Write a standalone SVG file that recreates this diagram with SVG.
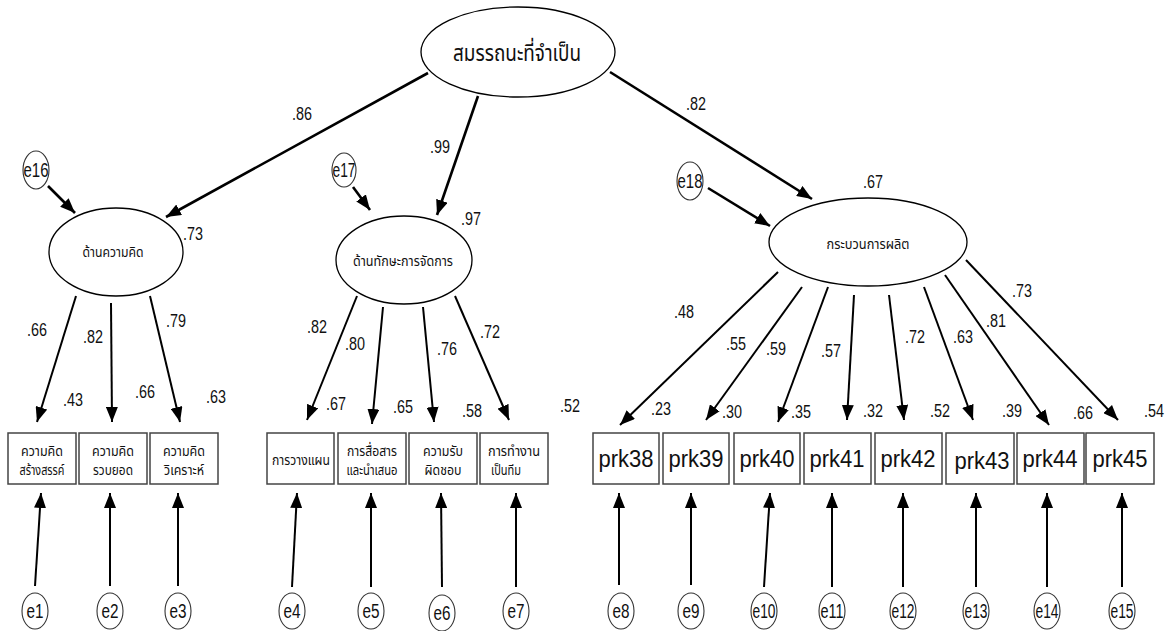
<svg xmlns="http://www.w3.org/2000/svg" width="1170" height="631" viewBox="0 0 1170 631">
<style>
.bg{fill:#fff}
.lat{fill:#fff;stroke:#000;stroke-width:1.3}
.err{fill:#fff;stroke:#333;stroke-width:1.1}
.box{fill:#fff;stroke:#444;stroke-width:1.5}
.c{stroke:#000;stroke-width:2;fill:none;marker-end:url(#ah)}
.ct{stroke:#000;stroke-width:2.6;fill:none;marker-end:url(#ah)}
.num{font-family:"Liberation Sans",Arial,sans-serif;font-size:18px;fill:#111}
.el{font-family:"Liberation Sans",Arial,sans-serif;font-size:20px;fill:#111;text-anchor:middle}
.th{font-family:"Noto Sans Thai","Noto Sans","DejaVu Sans",sans-serif;fill:#111;text-anchor:middle}
.prk{font-family:"Liberation Sans",Arial,sans-serif;font-size:23px;fill:#111;text-anchor:middle}
</style>
<defs>
<marker id="ah" markerUnits="userSpaceOnUse" markerWidth="15" markerHeight="12" viewBox="0 0 15 12" refX="15" refY="6" orient="auto">
<path d="M0,0 L15,6 L0,12 z" fill="#000"/>
</marker>
</defs>
<rect class="bg" x="0" y="0" width="1170" height="631"/>

<g id="connectors">
<line class="ct" x1="428" y1="73" x2="166" y2="217"/>
<line class="ct" x1="478" y1="96" x2="437" y2="215"/>
<line class="ct" x1="610" y1="72" x2="812" y2="199"/>
<line class="ct" x1="48" y1="186" x2="75" y2="213"/>
<line class="ct" x1="353" y1="187" x2="370" y2="210"/>
<line class="ct" x1="708" y1="188" x2="770" y2="226"/>
<line class="c" x1="76" y1="296" x2="37" y2="422"/>
<line class="c" x1="111" y1="303" x2="112" y2="422"/>
<line class="c" x1="150" y1="296" x2="180" y2="422"/>
<line class="c" x1="357" y1="296" x2="307" y2="420"/>
<line class="c" x1="383" y1="307" x2="372" y2="424"/>
<line class="c" x1="423" y1="307" x2="434" y2="422"/>
<line class="c" x1="455" y1="296" x2="509" y2="420"/>
<line class="c" x1="778" y1="272" x2="620" y2="425"/>
<line class="c" x1="802" y1="287" x2="706" y2="420"/>
<line class="c" x1="828" y1="287" x2="778" y2="422"/>
<line class="c" x1="854" y1="295" x2="847" y2="420"/>
<line class="c" x1="889" y1="295" x2="904" y2="420"/>
<line class="c" x1="924" y1="287" x2="973" y2="420"/>
<line class="c" x1="945" y1="275" x2="1049" y2="425"/>
<line class="c" x1="966" y1="260" x2="1118" y2="420"/>
<line class="c" x1="35" y1="586" x2="41" y2="493"/>
<line class="c" x1="110" y1="586" x2="110" y2="493"/>
<line class="c" x1="178" y1="586" x2="178" y2="493"/>
<line class="c" x1="292" y1="587" x2="297" y2="493"/>
<line class="c" x1="371" y1="587" x2="371" y2="493"/>
<line class="c" x1="442" y1="587" x2="441" y2="493"/>
<line class="c" x1="516" y1="587" x2="516" y2="493"/>
<line class="c" x1="619" y1="585" x2="619" y2="493"/>
<line class="c" x1="691" y1="585" x2="691" y2="493"/>
<line class="c" x1="764" y1="587" x2="770" y2="493"/>
<line class="c" x1="832" y1="587" x2="832" y2="493"/>
<line class="c" x1="903" y1="587" x2="903" y2="493"/>
<line class="c" x1="976" y1="587" x2="976" y2="493"/>
<line class="c" x1="1047" y1="587" x2="1047" y2="493"/>
<line class="c" x1="1122" y1="587" x2="1122" y2="493"/>
</g>

<g id="labels">
<text class="num" x="292" y="120" textLength="20" lengthAdjust="spacingAndGlyphs">.86</text>
<text class="num" x="430" y="153" textLength="20" lengthAdjust="spacingAndGlyphs">.99</text>
<text class="num" x="686" y="110" textLength="20" lengthAdjust="spacingAndGlyphs">.82</text>
<text class="num" x="183" y="240" textLength="20" lengthAdjust="spacingAndGlyphs">.73</text>
<text class="num" x="461" y="225" textLength="20" lengthAdjust="spacingAndGlyphs">.97</text>
<text class="num" x="863" y="188" textLength="20" lengthAdjust="spacingAndGlyphs">.67</text>
<text class="num" x="27" y="336" textLength="20" lengthAdjust="spacingAndGlyphs">.66</text>
<text class="num" x="83" y="343" textLength="20" lengthAdjust="spacingAndGlyphs">.82</text>
<text class="num" x="166" y="327" textLength="20" lengthAdjust="spacingAndGlyphs">.79</text>
<text class="num" x="63" y="406" textLength="20" lengthAdjust="spacingAndGlyphs">.43</text>
<text class="num" x="135" y="398" textLength="20" lengthAdjust="spacingAndGlyphs">.66</text>
<text class="num" x="206" y="403" textLength="20" lengthAdjust="spacingAndGlyphs">.63</text>
<text class="num" x="307" y="333" textLength="20" lengthAdjust="spacingAndGlyphs">.82</text>
<text class="num" x="345" y="350" textLength="20" lengthAdjust="spacingAndGlyphs">.80</text>
<text class="num" x="437" y="355" textLength="20" lengthAdjust="spacingAndGlyphs">.76</text>
<text class="num" x="480" y="338" textLength="20" lengthAdjust="spacingAndGlyphs">.72</text>
<text class="num" x="326" y="410" textLength="20" lengthAdjust="spacingAndGlyphs">.67</text>
<text class="num" x="393" y="413" textLength="20" lengthAdjust="spacingAndGlyphs">.65</text>
<text class="num" x="462" y="417" textLength="20" lengthAdjust="spacingAndGlyphs">.58</text>
<text class="num" x="560" y="412" textLength="20" lengthAdjust="spacingAndGlyphs">.52</text>
<text class="num" x="674" y="318" textLength="20" lengthAdjust="spacingAndGlyphs">.48</text>
<text class="num" x="726" y="350" textLength="20" lengthAdjust="spacingAndGlyphs">.55</text>
<text class="num" x="766" y="355" textLength="20" lengthAdjust="spacingAndGlyphs">.59</text>
<text class="num" x="821" y="357" textLength="20" lengthAdjust="spacingAndGlyphs">.57</text>
<text class="num" x="905" y="343" textLength="20" lengthAdjust="spacingAndGlyphs">.72</text>
<text class="num" x="953" y="343" textLength="20" lengthAdjust="spacingAndGlyphs">.63</text>
<text class="num" x="986" y="327" textLength="20" lengthAdjust="spacingAndGlyphs">.81</text>
<text class="num" x="1012" y="297" textLength="20" lengthAdjust="spacingAndGlyphs">.73</text>
<text class="num" x="651" y="415" textLength="20" lengthAdjust="spacingAndGlyphs">.23</text>
<text class="num" x="722" y="418" textLength="20" lengthAdjust="spacingAndGlyphs">.30</text>
<text class="num" x="791" y="418" textLength="20" lengthAdjust="spacingAndGlyphs">.35</text>
<text class="num" x="863" y="417" textLength="20" lengthAdjust="spacingAndGlyphs">.32</text>
<text class="num" x="930" y="417" textLength="20" lengthAdjust="spacingAndGlyphs">.52</text>
<text class="num" x="1002" y="417" textLength="20" lengthAdjust="spacingAndGlyphs">.39</text>
<text class="num" x="1073" y="419" textLength="20" lengthAdjust="spacingAndGlyphs">.66</text>
<text class="num" x="1144" y="417" textLength="20" lengthAdjust="spacingAndGlyphs">.54</text>
</g>

<g id="n-top"><ellipse class="lat" cx="518" cy="52" rx="97" ry="45"/><text class="th" x="517" y="61" font-size="23" textLength="128" lengthAdjust="spacingAndGlyphs">สมรรถนะที่จำเป็น</text></g>
<g id="n-think"><ellipse class="lat" cx="116" cy="252" rx="67" ry="44"/><text class="th" x="113" y="257" font-size="14" textLength="61" lengthAdjust="spacingAndGlyphs">ด้านความคิด</text></g>
<g id="n-skill"><ellipse class="lat" cx="404" cy="260" rx="68" ry="44"/><text class="th" x="403" y="266" font-size="14" textLength="100" lengthAdjust="spacingAndGlyphs">ด้านทักษะการจัดการ</text></g>
<g id="n-proc"><ellipse class="lat" cx="868" cy="242" rx="99" ry="44"/><text class="th" x="868" y="249" font-size="14" textLength="83" lengthAdjust="spacingAndGlyphs">กระบวนการผลิต</text></g>

<g id="e16"><ellipse class="err" cx="36" cy="170" rx="13" ry="19"/><text class="el" x="36" y="177" textLength="25" lengthAdjust="spacingAndGlyphs">e16</text></g>
<g id="e17"><ellipse class="err" cx="344" cy="170" rx="12" ry="17"/><text class="el" x="344" y="177" textLength="23" lengthAdjust="spacingAndGlyphs">e17</text></g>
<g id="e18"><ellipse class="err" cx="690" cy="181" rx="13" ry="19"/><text class="el" x="690" y="188" textLength="25" lengthAdjust="spacingAndGlyphs">e18</text></g>

<g id="b1"><rect class="box" x="8" y="433" width="68" height="51"/><text class="th" x="42" y="456" font-size="14" textLength="42" lengthAdjust="spacingAndGlyphs">ความคิด</text><text class="th" x="42" y="475" font-size="14" textLength="45" lengthAdjust="spacingAndGlyphs">สร้างสรรค์</text></g>
<g id="b2"><rect class="box" x="79" y="433" width="68" height="51"/><text class="th" x="113" y="456" font-size="14" textLength="42" lengthAdjust="spacingAndGlyphs">ความคิด</text><text class="th" x="113" y="475" font-size="14" textLength="40" lengthAdjust="spacingAndGlyphs">รวบยอด</text></g>
<g id="b3"><rect class="box" x="150" y="433" width="68" height="51"/><text class="th" x="184" y="456" font-size="14" textLength="42" lengthAdjust="spacingAndGlyphs">ความคิด</text><text class="th" x="184" y="475" font-size="14" textLength="40" lengthAdjust="spacingAndGlyphs">วิเคราะห์</text></g>
<g id="b4"><rect class="box" x="267" y="433" width="67" height="51"/><text class="th" x="301" y="465" font-size="14" textLength="58" lengthAdjust="spacingAndGlyphs">การวางแผน</text></g>
<g id="b5"><rect class="box" x="338" y="433" width="68" height="51"/><text class="th" x="372" y="456" font-size="14" textLength="50" lengthAdjust="spacingAndGlyphs">การสื่อสาร</text><text class="th" x="372" y="475" font-size="14" textLength="51" lengthAdjust="spacingAndGlyphs">และนำเสนอ</text></g>
<g id="b6"><rect class="box" x="409" y="433" width="68" height="51"/><text class="th" x="443" y="456" font-size="14" textLength="40" lengthAdjust="spacingAndGlyphs">ความรับ</text><text class="th" x="443" y="475" font-size="14" textLength="37" lengthAdjust="spacingAndGlyphs">ผิดชอบ</text></g>
<g id="b7"><rect class="box" x="480" y="433" width="68" height="51"/><text class="th" x="514" y="456" font-size="14" textLength="52" lengthAdjust="spacingAndGlyphs">การทำงาน</text><text class="th" x="506" y="475" font-size="14" textLength="30" lengthAdjust="spacingAndGlyphs">เป็นทีม</text></g>

<g id="prk38"><rect class="box" x="593" y="433" width="66" height="51"/><text class="prk" x="626" y="467" textLength="55" lengthAdjust="spacingAndGlyphs">prk38</text></g>
<g id="prk39"><rect class="box" x="663" y="433" width="66" height="51"/><text class="prk" x="696" y="467" textLength="55" lengthAdjust="spacingAndGlyphs">prk39</text></g>
<g id="prk40"><rect class="box" x="734" y="433" width="66" height="51"/><text class="prk" x="767" y="467" textLength="55" lengthAdjust="spacingAndGlyphs">prk40</text></g>
<g id="prk41"><rect class="box" x="804" y="433" width="67" height="51"/><text class="prk" x="837" y="467" textLength="55" lengthAdjust="spacingAndGlyphs">prk41</text></g>
<g id="prk42"><rect class="box" x="875" y="433" width="67" height="51"/><text class="prk" x="908" y="467" textLength="55" lengthAdjust="spacingAndGlyphs">prk42</text></g>
<g id="prk43"><rect class="box" x="946" y="433" width="68" height="51"/><text class="prk" x="982" y="469" textLength="55" lengthAdjust="spacingAndGlyphs">prk43</text></g>
<g id="prk44"><rect class="box" x="1017" y="433" width="67" height="51"/><text class="prk" x="1050" y="467" textLength="55" lengthAdjust="spacingAndGlyphs">prk44</text></g>
<g id="prk45"><rect class="box" x="1086" y="433" width="68" height="51"/><text class="prk" x="1120" y="467" textLength="55" lengthAdjust="spacingAndGlyphs">prk45</text></g>

<g id="e1"><ellipse class="err" cx="35" cy="611" rx="13" ry="18"/><text class="el" x="35" y="618" textLength="17" lengthAdjust="spacingAndGlyphs">e1</text></g>
<g id="e2"><ellipse class="err" cx="110" cy="611" rx="13" ry="18"/><text class="el" x="110" y="618" textLength="17" lengthAdjust="spacingAndGlyphs">e2</text></g>
<g id="e3"><ellipse class="err" cx="178" cy="611" rx="13" ry="18"/><text class="el" x="178" y="618" textLength="17" lengthAdjust="spacingAndGlyphs">e3</text></g>
<g id="e4"><ellipse class="err" cx="292" cy="611" rx="13" ry="18"/><text class="el" x="292" y="618" textLength="17" lengthAdjust="spacingAndGlyphs">e4</text></g>
<g id="e5"><ellipse class="err" cx="371" cy="611" rx="13" ry="18"/><text class="el" x="371" y="618" textLength="17" lengthAdjust="spacingAndGlyphs">e5</text></g>
<g id="e6"><ellipse class="err" cx="442" cy="613" rx="13" ry="18"/><text class="el" x="442" y="620" textLength="17" lengthAdjust="spacingAndGlyphs">e6</text></g>
<g id="e7"><ellipse class="err" cx="516" cy="611" rx="13" ry="18"/><text class="el" x="516" y="618" textLength="17" lengthAdjust="spacingAndGlyphs">e7</text></g>
<g id="e8"><ellipse class="err" cx="621" cy="611" rx="13" ry="18"/><text class="el" x="621" y="618" textLength="17" lengthAdjust="spacingAndGlyphs">e8</text></g>
<g id="e9"><ellipse class="err" cx="691" cy="611" rx="13" ry="18"/><text class="el" x="691" y="618" textLength="17" lengthAdjust="spacingAndGlyphs">e9</text></g>
<g id="e10"><ellipse class="err" cx="764" cy="611" rx="13" ry="18"/><text class="el" x="764" y="618" textLength="23" lengthAdjust="spacingAndGlyphs">e10</text></g>
<g id="e11"><ellipse class="err" cx="832" cy="611" rx="13" ry="18"/><text class="el" x="832" y="618" textLength="23" lengthAdjust="spacingAndGlyphs">e11</text></g>
<g id="e12"><ellipse class="err" cx="903" cy="611" rx="13" ry="18"/><text class="el" x="903" y="618" textLength="23" lengthAdjust="spacingAndGlyphs">e12</text></g>
<g id="e13"><ellipse class="err" cx="976" cy="611" rx="13" ry="18"/><text class="el" x="976" y="618" textLength="23" lengthAdjust="spacingAndGlyphs">e13</text></g>
<g id="e14"><ellipse class="err" cx="1047" cy="611" rx="13" ry="18"/><text class="el" x="1047" y="618" textLength="23" lengthAdjust="spacingAndGlyphs">e14</text></g>
<g id="e15"><ellipse class="err" cx="1122" cy="611" rx="13" ry="18"/><text class="el" x="1122" y="618" textLength="23" lengthAdjust="spacingAndGlyphs">e15</text></g>
</svg>
